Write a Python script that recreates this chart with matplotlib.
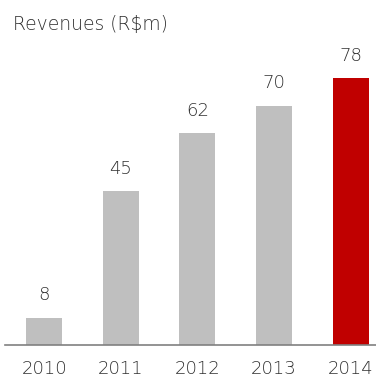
import matplotlib.pyplot as plt

years = ["2010", "2011", "2012", "2013", "2014"]
revenues = [8, 45, 62, 70, 78]
colors = ["#bfbfbf", "#bfbfbf", "#bfbfbf", "#bfbfbf", "#c00000"]

plt.rcParams['font.family'] = ['DejaVu Sans']
plt.rcParams['font.weight'] = 'light'
text_color = "#303030"

fig = plt.figure(figsize=(3.76, 3.78), dpi=100)
ax = fig.add_axes([5 / 376, 33 / 378, 371 / 376, 345 / 378])

x = range(len(years))
ax.bar(x, revenues, width=0.47, color=colors)

for i, v in enumerate(revenues):
    ax.annotate(str(v), (i, v), xytext=(0, 12.5), textcoords="offset points",
                ha="center", va="baseline", fontsize=13, color=text_color)

ax.set_xlim(-0.51, 4.33)
ax.set_ylim(0, 345 / 3.42)

for s in ["top", "right", "left"]:
    ax.spines[s].set_visible(False)
ax.spines["bottom"].set_color("#808080")
ax.spines["bottom"].set_linewidth(1.2)

ax.set_yticks([])
ax.set_xticks(list(x))
ax.set_xticklabels(years, fontsize=13, color=text_color)
ax.tick_params(axis="x", length=0, pad=10.5)

fig.text(13 / 376, 1 - 30 / 378, "Revenues (R$m)", fontsize=13.5,
         color=text_color, ha="left", va="baseline")

fig.savefig("out.png", dpi=100)
